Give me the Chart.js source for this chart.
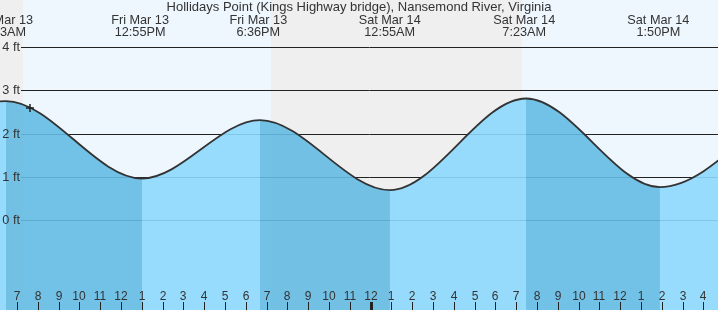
<!DOCTYPE html>
<html><head><meta charset="utf-8">
<script src="https://cdn.jsdelivr.net/npm/chart.js@4.4.0/dist/chart.umd.min.js"></script>
<style>html,body{margin:0;padding:0;background:#fff;overflow:hidden}canvas{display:block}</style>
</head><body>
<canvas id="c" width="718" height="310"></canvas>
<script>
const title = 'Hollidays Point (Kings Highway bridge), Nansemond River, Virginia';
// hours counted from Fri Mar 13 00:00
const tideHours = [0.25, 6.47, 13.01, 18.68, 24.93, 31.47, 37.91, 44.15];
const tideFeet  = [0.90, 2.75, 0.96, 2.31, 0.69, 2.81, 0.76, 2.72];
const extremeHours = [6.383, 12.917, 18.6, 24.917, 31.383, 37.833];
const extremeDates = ['Fri Mar 13','Fri Mar 13','Fri Mar 13','Sat Mar 14','Sat Mar 14','Sat Mar 14'];
const extremeTimes = ['6:23AM','12:55PM','6:36PM','12:55AM','7:23AM','1:50PM'];
const nightStarts = [0, 19.21];
const nightEnds   = [7.29, 31.28];
const hourTicks  = [7,8,9,10,11,12,13,14,15,16,17,18,19,20,21,22,23,24,25,26,27,28,29,30,31,32,33,34,35,36,37,38,39,40];
const hourLabels = ['7','8','9','10','11','12','1','2','3','4','5','6','7','8','9','10','11','12','1','2','3','4','5','6','7','8','9','10','11','12','1','2','3','4'];
const midnightHours = [24];
const yTicks = [0,1,2,3,4];
const yTickLabels = ['0 ft','1 ft','2 ft','3 ft','4 ft'];
const nowHour = [7.625];
const nowFeet = [2.59];

const FONT = 'Liberation Sans, Arial, sans-serif';
const TXT = '#333';
const DAY = '#eef6fe', NIGHT = '#efefef';
const FILL_RISE = 'rgba(141,216,253,0.9)';
const FILL_FALL = 'rgba(100,187,227,0.9)';

const bgPlugin = {
  id: 'bg',
  beforeDraw(chart) {
    const {ctx, chartArea: a, scales: {x}} = chart;
    ctx.save();
    ctx.fillStyle = DAY;
    ctx.fillRect(0, 0, chart.width, chart.height);
    ctx.fillStyle = NIGHT;
    nightStarts.forEach((s, i) => {
      const x0 = Math.max(a.left, Math.round(x.getPixelForValue(s)));
      const x1 = Math.min(a.right, Math.round(x.getPixelForValue(nightEnds[i])));
      if (x1 > x0) ctx.fillRect(x0, a.top, x1 - x0, a.bottom - a.top);
    });
    ctx.restore();
  },
  beforeDatasetsDraw(chart) {
    const {ctx, chartArea: a, scales: {y}} = chart;
    ctx.save();
    ctx.strokeStyle = '#222';
    ctx.lineWidth = 1;
    yTicks.forEach(v => {
      const py = Math.round(y.getPixelForValue(v)) + 0.5;
      ctx.beginPath(); ctx.moveTo(21, py); ctx.lineTo(a.right, py); ctx.stroke();
    });
    ctx.restore();
  },
  afterDraw(chart) {
    const {ctx, chartArea: a, scales: {x, y}} = chart;
    ctx.save();
    ctx.fillStyle = TXT;
    ctx.textAlign = 'center';
    ctx.textBaseline = 'alphabetic';
    ctx.font = '13px ' + FONT;
    ctx.fillText(title, chart.width / 2, 11);
    ctx.font = '12.7px ' + FONT;
    extremeHours.forEach((h, i) => {
      const px = x.getPixelForValue(h);
      ctx.fillText(extremeDates[i], px, 24);
      ctx.fillText(extremeTimes[i], px, 36);
    });
    ctx.textAlign = 'right';
    ctx.textBaseline = 'middle';
    yTicks.forEach((v, i) => {
      ctx.fillText(yTickLabels[i], 20, y.getPixelForValue(v) + 0.5);
    });
    ctx.font = '12px ' + FONT;
    ctx.textAlign = 'center';
    ctx.textBaseline = 'alphabetic';
    hourTicks.forEach((h, i) => {
      const px = Math.round(x.getPixelForValue(h));
      ctx.fillStyle = TXT;
      ctx.fillText(hourLabels[i], px, 300);
      const mid = midnightHours.includes(h);
      ctx.fillStyle = '#222';
      if (mid) ctx.fillRect(px - 1, 302, 3, a.bottom - 302);
      else ctx.fillRect(px, 302, 1, a.bottom - 302);
    });
    ctx.restore();
  }
};

new Chart(document.getElementById('c'), {
  type: 'line',
  data: {
    datasets: [
      {
        data: tideHours.map((h, i) => ({x: h, y: tideFeet[i]})),
        cubicInterpolationMode: 'monotone',
        borderColor: '#333',
        borderWidth: 1.8,
        pointRadius: 0,
        fill: 'start',
        backgroundColor: FILL_RISE,
        segment: {
          backgroundColor: c => (c.p1.parsed.y < c.p0.parsed.y ? FILL_FALL : FILL_RISE)
        },
        order: 2
      },
      {
        data: nowHour.map((h, i) => ({x: h, y: nowFeet[i]})),
        showLine: false,
        pointStyle: 'cross',
        pointRadius: 4,
        borderColor: '#222',
        borderWidth: 1.5,
        fill: false,
        order: 1
      }
    ]
  },
  options: {
    responsive: false,
    animation: false,
    devicePixelRatio: 1,
    layout: {padding: 0, autoPadding: false},
    plugins: {legend: {display: false}, tooltip: {enabled: false}},
    scales: {
      x: {type: 'linear', min: 6.183, max: 40.70, display: false},
      y: {min: -2.081, max: 5.087, display: false}
    }
  },
  plugins: [bgPlugin]
});
</script>
</body></html>
